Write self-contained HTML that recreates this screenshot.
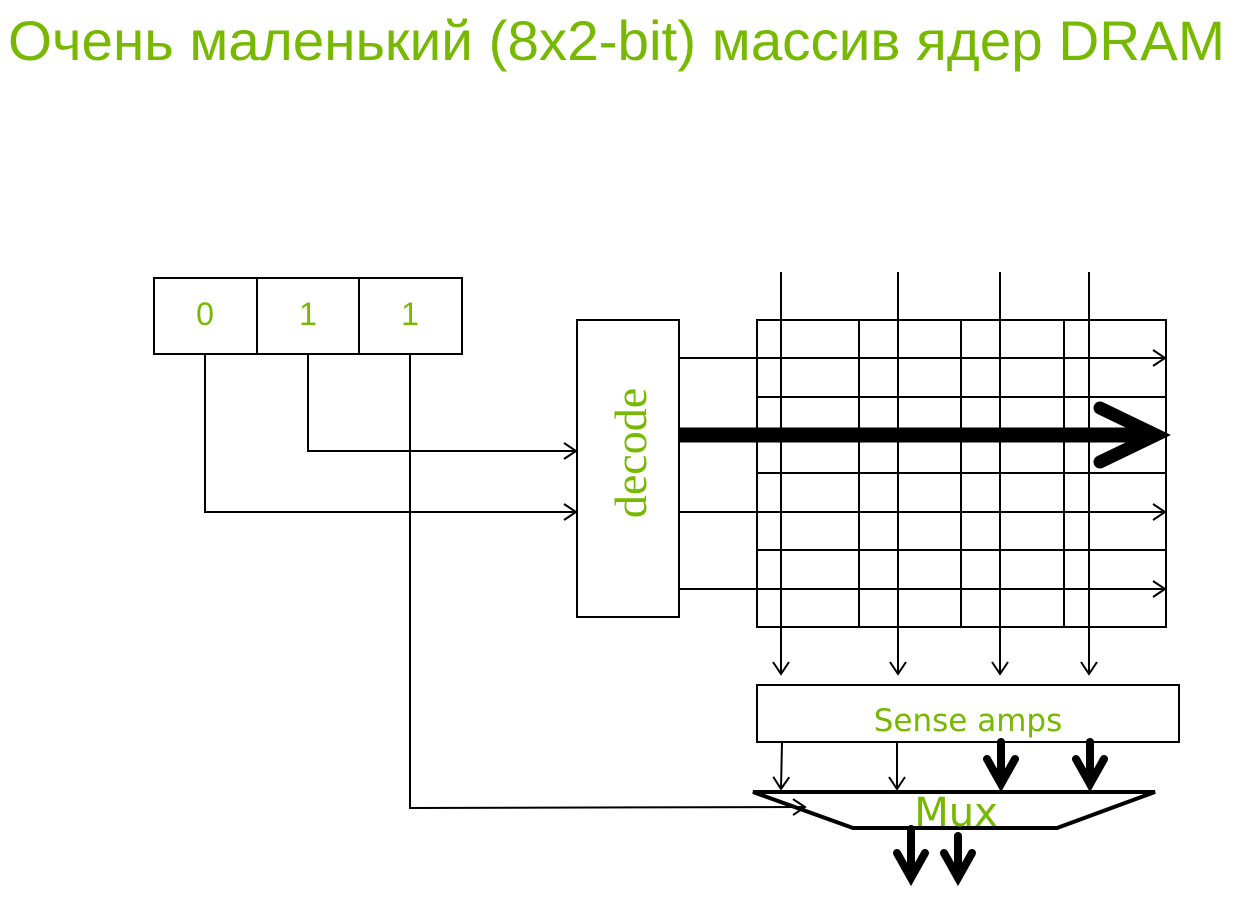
<!DOCTYPE html>
<html><head><meta charset="utf-8"><style>
html,body{margin:0;padding:0;background:#fff;}
svg{display:block;}
.t{font-family:"Liberation Sans",sans-serif;fill:#76b900;}
.d{font-family:"DejaVu Sans",sans-serif;fill:#76b900;}
.s{font-family:"Liberation Serif",serif;fill:#76b900;}
</style></head><body>
<svg width="1240" height="913" viewBox="0 0 1240 913" xmlns="http://www.w3.org/2000/svg">
<defs>
<marker id="a" markerWidth="20" markerHeight="20" refX="18" refY="10" orient="auto" markerUnits="userSpaceOnUse">
<path d="M6,2 L18,10 L6,18" fill="none" stroke="#000" stroke-width="2"/>
</marker>
</defs>
<text class="t" x="8" y="60" font-size="56" textLength="1217" lengthAdjust="spacingAndGlyphs">Очень маленький (8x2-bit) массив ядер DRAM</text>

<g stroke="#000" stroke-width="2" fill="none">
<rect x="154" y="278" width="308" height="76" fill="#fff"/>
<line x1="257" y1="278" x2="257" y2="354"/>
<line x1="359" y1="278" x2="359" y2="354"/>
<polyline points="205,354 205,512 576,512" marker-end="url(#a)"/>
<polyline points="308,354 308,451 576,451" marker-end="url(#a)"/>
<polyline points="410,354 410,808 805,807" marker-end="url(#a)"/>
<rect x="577" y="320" width="102" height="297" fill="#fff"/>
<rect x="757" y="320" width="409" height="307"/>
<line x1="859" y1="320" x2="859" y2="627"/>
<line x1="961" y1="320" x2="961" y2="627"/>
<line x1="1064" y1="320" x2="1064" y2="627"/>
<line x1="757" y1="397" x2="1166" y2="397"/>
<line x1="757" y1="473" x2="1166" y2="473"/>
<line x1="757" y1="550" x2="1166" y2="550"/>
<line x1="679" y1="358" x2="1165" y2="358" marker-end="url(#a)"/>
<line x1="679" y1="512" x2="1165" y2="512" marker-end="url(#a)"/>
<line x1="679" y1="589" x2="1165" y2="589" marker-end="url(#a)"/>
<line x1="781" y1="272" x2="781" y2="674" marker-end="url(#a)"/>
<line x1="898" y1="272" x2="898" y2="674" marker-end="url(#a)"/>
<line x1="1000" y1="272" x2="1000" y2="674" marker-end="url(#a)"/>
<line x1="1089" y1="272" x2="1089" y2="674" marker-end="url(#a)"/>
<rect x="757" y="685" width="422" height="57" fill="#fff"/>
<line x1="782" y1="742" x2="781" y2="789" marker-end="url(#a)"/>
<line x1="897" y1="742" x2="897" y2="789" marker-end="url(#a)"/>
</g>
<line x1="679" y1="435" x2="1150" y2="435" stroke="#000" stroke-width="15"/>
<polyline points="1100,408 1156,435 1100,462" fill="none" stroke="#000" stroke-width="13" stroke-linecap="round" stroke-linejoin="miter"/>
<g stroke="#000" fill="none" stroke-linecap="round">
<line x1="1001" y1="742" x2="1001" y2="782" stroke-width="8"/>
<polyline points="987,759 1001,784 1015,759" stroke-width="8"/>
<line x1="1090" y1="742" x2="1090" y2="782" stroke-width="8"/>
<polyline points="1076,759 1090,784 1104,759" stroke-width="8"/>
<line x1="911" y1="829" x2="911" y2="876" stroke-width="8"/>
<polyline points="897,853 911,878 925,853" stroke-width="8"/>
<line x1="958" y1="836" x2="958" y2="876" stroke-width="8"/>
<polyline points="944,853 958,878 972,853" stroke-width="8"/>
</g>
<polygon points="753,792 1155,792 1057,828 853,828" fill="none" stroke="#000" stroke-width="4"/>

<text class="s" transform="translate(646,453) rotate(-90)" text-anchor="middle" font-size="46">decode</text>
<text class="t" x="205" y="325" font-size="32" text-anchor="middle">0</text>
<text class="t" x="308" y="325" font-size="32" text-anchor="middle">1</text>
<text class="t" x="410" y="325" font-size="32" text-anchor="middle">1</text>
<text class="d" x="968" y="731" font-size="31" text-anchor="middle">Sense amps</text>
<text class="d" x="956" y="826" font-size="40" text-anchor="middle">Mux</text>
</svg>
</body></html>
